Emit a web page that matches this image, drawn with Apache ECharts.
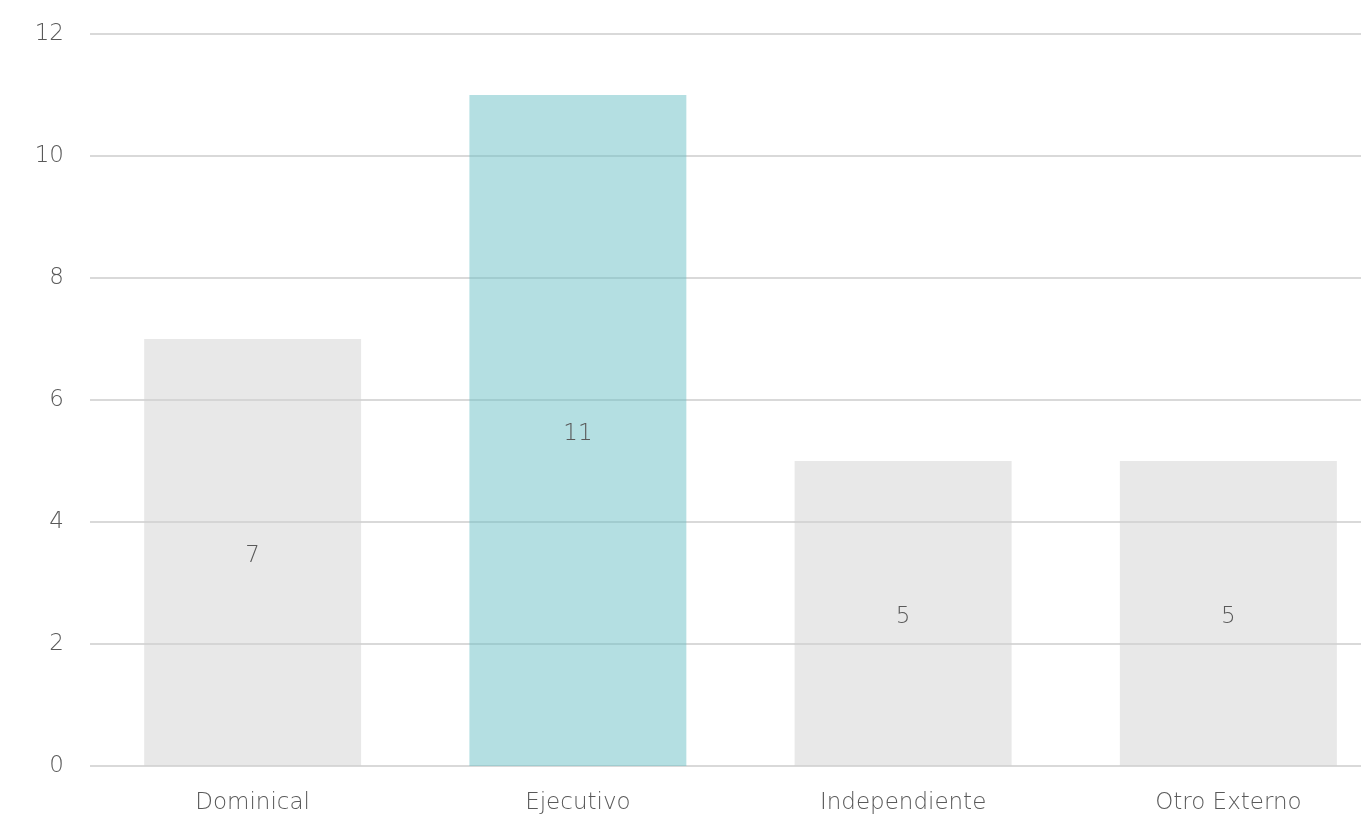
<!DOCTYPE html>
<html><head><meta charset="utf-8">
<script src="https://cdn.jsdelivr.net/npm/echarts@6/dist/echarts.min.js"></script>
<style>html,body{margin:0;padding:0;background:#fff;overflow:hidden}#c{width:1391px;height:815px}</style>
</head><body><div id="c"></div>
<script>
const categories = ["Dominical", "Ejecutivo", "Independiente", "Otro Externo"];
const values = [7, 11, 5, 5];
const barColors = ["rgba(209,209,209,0.5)", "rgba(105,192,198,0.5)", "rgba(209,209,209,0.5)", "rgba(209,209,209,0.5)"];
const yTicks = [0, 2, 4, 6, 8, 10, 12];

const font = { color: '#595959', fontSize: 23, fontFamily: '"DejaVu Sans"', fontWeight: 200 };
const chart = echarts.init(document.getElementById('c'));
chart.setOption({
  animation: false,
  grid: { left: 90, right: 0, top: 34, bottom: 48, containLabel: false },
  xAxis: {
    type: 'category', data: categories,
    axisLine: { show: false }, axisTick: { show: false },
    axisLabel: Object.assign({ margin: 26 }, font)
  },
  yAxis: {
    type: 'value', min: yTicks[0], max: yTicks[yTicks.length - 1], interval: 2,
    axisLine: { show: false }, axisTick: { show: false },
    axisLabel: Object.assign({ margin: 26 }, font),
    splitLine: { lineStyle: { color: '#d9d9d9', width: 2 } }
  },
  series: [{
    type: 'bar', barCategoryGap: '33.3%',
    data: values.map((v, i) => ({ value: v, itemStyle: { color: barColors[i] } })),
    label: Object.assign({ show: true, position: 'inside', offset: [0, 4] }, font)
  }]
});
</script></body></html>
